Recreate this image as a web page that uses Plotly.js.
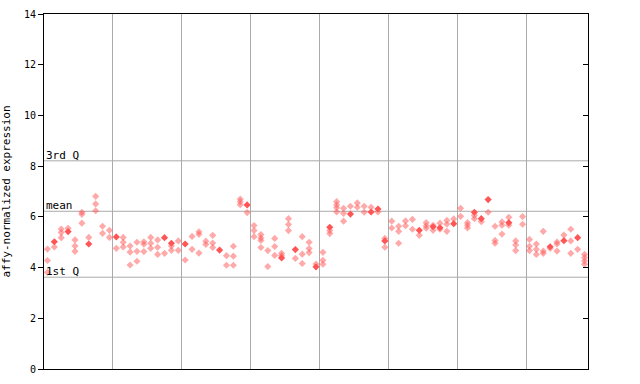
<!DOCTYPE html>
<html>
<head>
<meta charset="utf-8">
<script src="https://cdn.plot.ly/plotly-3.0.1.min.js"></script>
<style>html,body{margin:0;padding:0;background:#fff;}#chart{width:640px;height:384px;}</style>
</head>
<body>
<div id="chart"></div>
<script>
// Per-sample (column) values: hollow diamonds
const sampleValues = [
  [4.73, 4.28, 3.81], [4.81], [5.52, 5.38, 5.18], [5.55], [5.09, 4.85, 4.64],
  [6.18, 6.10, 5.75], [5.19], [6.81, 6.51, 6.24], [5.63, 5.35], [5.47, 5.19],
  [4.76], [5.19, 5.00, 4.81], [4.85, 4.61, 4.10], [5.00, 4.64, 4.25], [5.02, 4.92, 4.63],
  [5.19, 4.96, 4.76], [5.09, 4.80, 4.52], [4.56], [4.85, 4.68], [5.05, 4.68],
  [4.30], [5.23, 4.72], [5.41, 5.31, 4.57], [5.04, 4.91], [5.27, 4.97, 4.79],
  [], [4.47, 4.09], [4.84, 4.45, 4.09], [6.70, 6.60, 6.48], [6.17],
  [5.66, 5.46, 5.22], [5.30, 5.17, 5.07, 4.79], [4.67, 4.04], [5.15, 4.83, 4.48], [4.56, 4.47],
  [5.93, 5.70, 5.46], [4.36], [5.22, 4.53, 4.16], [5.00, 4.75, 4.59], [4.14],
  [4.60, 4.29, 4.13], [5.46, 5.34], [6.60, 6.47, 6.36, 6.19], [6.34, 6.14, 5.83], [6.42],
  [6.55, 6.38], [6.42, 6.18], [6.38], [6.19], [5.15, 4.80],
  [5.83, 5.56], [5.63, 5.43, 4.96], [5.84, 5.65], [5.90, 5.51], [5.27],
  [5.77, 5.65, 5.55], [5.67, 5.47], [5.75, 5.51], [5.86, 5.71, 5.43], [5.92],
  [6.34, 6.02], [5.77, 5.67, 5.56], [6.06, 5.93], [5.81], [6.18],
  [5.63, 5.07, 4.96], [5.80, 5.67, 5.32], [5.98, 5.67], [5.05, 4.89, 4.67], [6.01, 5.71],
  [5.11, 4.84, 4.67], [4.93, 4.72, 4.52], [5.43, 4.65, 4.56], [4.76], [5.01, 4.93, 4.65],
  [5.28], [5.51, 5.05, 4.56], [4.72], [4.52, 4.39, 4.26, 4.13]
];
// Per-sample highlighted value (filled diamond), null where none
const highlightValues = [
  null, 5.02, null, 5.42, null, null, 4.93, null, null, null,
  5.21, null, null, null, null, null, null, 5.18, 4.96, null,
  4.93, null, null, null, null, 4.69, null, null, null, 6.47,
  null, null, null, null, 4.38, null, 4.71, null, null, 4.03,
  null, 5.59, null, null, 6.11, null, null, 6.19, 6.31, 5.05,
  null, null, null, null, 5.47, null, 5.61, 5.57, null, 5.73,
  null, null, 6.18, 5.93, 6.68, null, null, 5.77, null, null,
  null, null, null, 4.82, null, 5.06, null, 5.18, null
];
// Reference lines
const firstQuartile = 3.62;
const meanValue = 6.22;
const thirdQuartile = 8.21;
// Group boundaries (between sample groups)
const groupBoundaries = [9.5, 19.5, 29.5, 39.5, 49.5, 59.5, 69.5];
const yTicks = [0, 2, 4, 6, 8, 10, 12, 14];

const hx = [], hy = [];
sampleValues.forEach((vals, i) => vals.forEach(v => { hx.push(i); hy.push(v); }));
const fx = [], fy = [];
highlightValues.forEach((v, i) => { if (v !== null) { fx.push(i); fy.push(v); } });

const RED = '#ff5555';
const GRID = '#aaaaaa';
const FONT = 'DejaVu Sans Mono, monospace';

const traces = [
  { x: hx, y: hy, type: 'scatter', mode: 'markers', hoverinfo: 'skip',
    marker: { symbol: 'diamond', size: 5.5, color: 'rgba(255,85,85,0.5)', line: { width: 0 } } },
  { x: fx, y: fy, type: 'scatter', mode: 'markers', hoverinfo: 'skip',
    marker: { symbol: 'diamond', size: 5.5, color: RED, line: { width: 0 } } },
  { x: [0], y: [0], yaxis: 'y2', type: 'scatter', mode: 'markers', hoverinfo: 'skip',
    marker: { opacity: 0 } }
];

const qLines = [firstQuartile, meanValue, thirdQuartile].map(v => ({
  type: 'line', xref: 'paper', x0: 0, x1: 1, yref: 'y', y0: v, y1: v,
  line: { color: GRID, width: 1 }, layer: 'below'
}));

const annFont = { family: FONT, size: 11, color: '#000' };
const ann = [
  { text: '3rd Q', y: thirdQuartile },
  { text: 'mean', y: meanValue },
  { text: '1st Q', y: firstQuartile }
].map(a => ({ text: a.text, xref: 'paper', x: 0, xanchor: 'left', yref: 'y', y: a.y,
  yanchor: 'bottom', showarrow: false, font: annFont, xshift: 0, yshift: -3 }));

const layout = {
  width: 640, height: 384,
  margin: { l: 44, r: 52, t: 14, b: 15, pad: 0 },
  paper_bgcolor: '#fff', plot_bgcolor: '#fff',
  showlegend: false,
  font: { family: FONT, size: 10, color: '#000' },
  xaxis: {
    range: [-0.5, sampleValues.length - 0.5],
    tickvals: groupBoundaries, showticklabels: false, ticks: '',
    showgrid: true, gridcolor: GRID, gridwidth: 1,
    zeroline: false, showline: true, linecolor: '#000', linewidth: 1, mirror: true,
    fixedrange: true
  },
  yaxis: {
    range: [0, 14], tickvals: yTicks, ticks: 'outside', ticklen: 5, tickcolor: '#000',
    showgrid: false, zeroline: false, showline: true, linecolor: '#000', linewidth: 1,
    tickfont: { family: FONT, size: 10 },
    title: { text: 'affy-normalized expression', font: { family: FONT, size: 11 }, standoff: 11 },
    fixedrange: true
  },
  yaxis2: {
    overlaying: 'y', side: 'right', range: [0, 14], tickvals: yTicks, ticks: 'inside',
    ticklen: 5, tickcolor: '#000', showticklabels: false, showgrid: false, zeroline: false,
    showline: true, linecolor: '#000', linewidth: 1, fixedrange: true
  },
  shapes: qLines,
  annotations: ann
};

Plotly.newPlot('chart', traces, layout, { staticPlot: true, displayModeBar: false });
</script>
</body>
</html>
